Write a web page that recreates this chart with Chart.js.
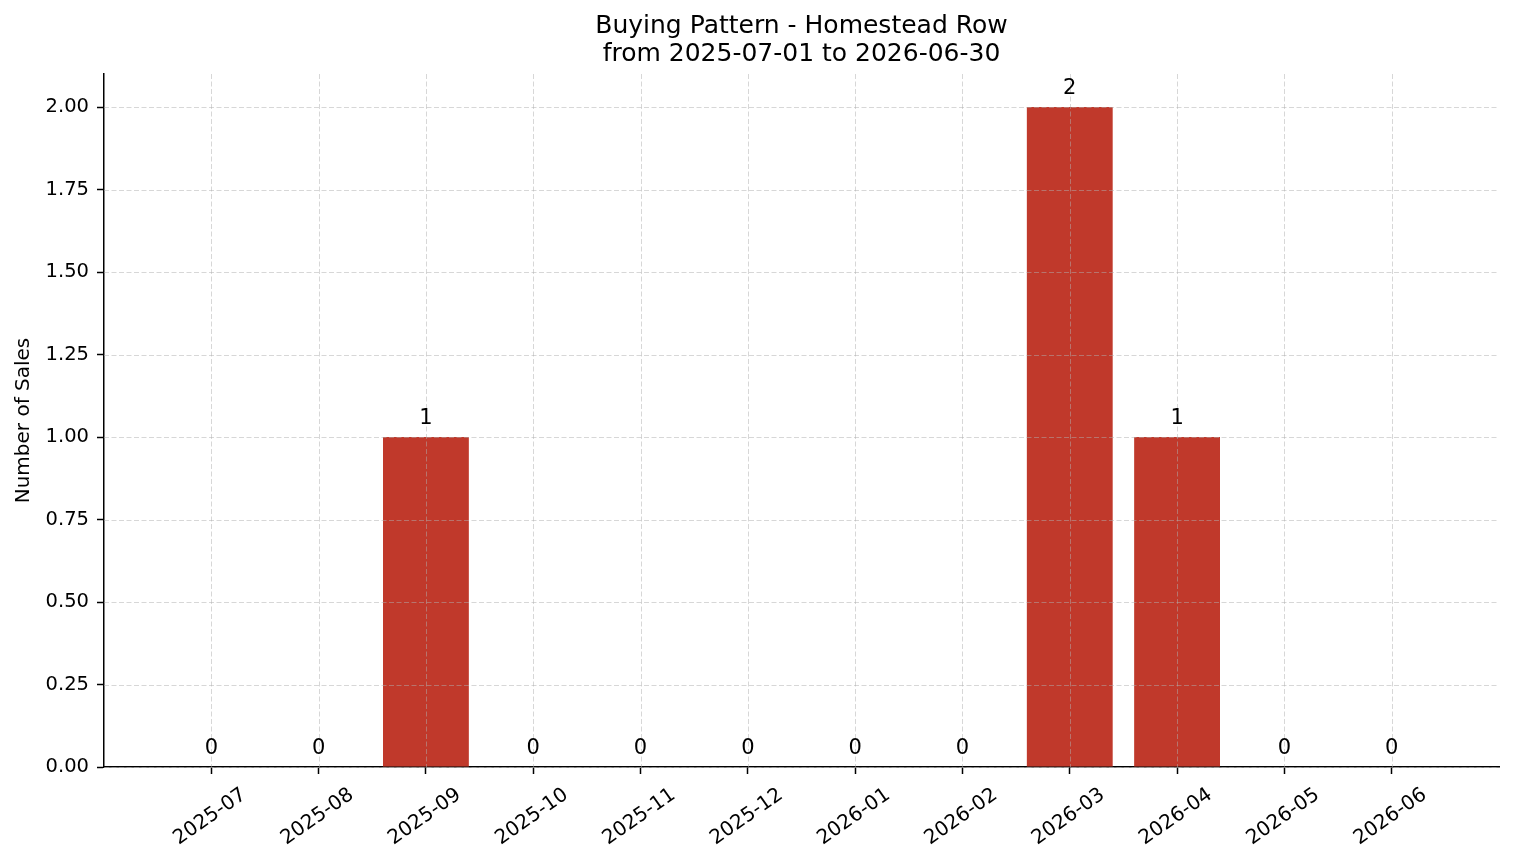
<!DOCTYPE html>
<html>
<head>
<meta charset="utf-8">
<title>Buying Pattern - Homestead Row</title>
<script src="https://cdn.jsdelivr.net/npm/chart.js@4"></script>
<style>
  body { margin: 0; background: #fff; }
  #wrap { width: 1514px; height: 863px; position: relative; }
</style>
</head>
<body>
<div id="wrap"><canvas id="salesChart"></canvas></div>
<script>
// Chart data
const months = ['2025-07', '2025-08', '2025-09', '2025-10', '2025-11', '2025-12',
                '2026-01', '2026-02', '2026-03', '2026-04', '2026-05', '2026-06'];
const sales = [0, 0, 1, 0, 0, 0, 0, 0, 2, 1, 0, 0];
const yTicks = [0, 0.25, 0.5, 0.75, 1, 1.25, 1.5, 1.75, 2];
const titleLines = ['Buying Pattern - Homestead Row', 'from 2025-07-01 to 2026-06-30'];
const yTitle = 'Number of Sales';

const FONT = "'DejaVu Sans', sans-serif";
const barColor = '#c0392b';
const gridColor = 'rgba(176, 176, 176, 0.5)';

// dashed grid drawn over the bars, like matplotlib does
const gridOverlay = {
  id: 'gridOverlay',
  afterDatasetsDraw(chart) {
    const { ctx, chartArea, scales } = chart;
    ctx.save();
    ctx.strokeStyle = gridColor;
    ctx.lineWidth = 1;
    ctx.setLineDash([5, 2.5]);
    scales.x.ticks.forEach((t, i) => {
      const px = Math.round(scales.x.getPixelForTick(i)) + 0.5;
      ctx.beginPath();
      ctx.moveTo(px, chartArea.top);
      ctx.lineTo(px, chartArea.bottom);
      ctx.stroke();
    });
    scales.y.ticks.forEach((t, i) => {
      const py = Math.round(scales.y.getPixelForTick(i)) + 0.5;
      ctx.beginPath();
      ctx.moveTo(chartArea.left, py);
      ctx.lineTo(chartArea.right, py);
      ctx.stroke();
    });
    ctx.restore();
  }
};

// value labels on top of each bar
const barLabels = {
  id: 'barLabels',
  afterDatasetsDraw(chart) {
    const { ctx } = chart;
    const meta = chart.getDatasetMeta(0);
    ctx.save();
    ctx.fillStyle = '#000';
    ctx.font = '21px ' + FONT;
    ctx.textAlign = 'center';
    ctx.textBaseline = 'alphabetic';
    meta.data.forEach((bar, i) => {
      ctx.fillText(String(sales[i]), bar.x, bar.y - 13.5);
    });
    ctx.restore();
  }
};

// title and y axis label
const textPlugin = {
  id: 'textPlugin',
  afterDraw(chart) {
    const { ctx, chartArea } = chart;
    const cx = (chartArea.left + chartArea.right) / 2;
    ctx.save();
    ctx.fillStyle = '#000';
    ctx.font = '25px ' + FONT;
    ctx.textAlign = 'center';
    ctx.textBaseline = 'alphabetic';
    ctx.fillText(titleLines[0], cx, 33);
    ctx.fillText(titleLines[1], cx, 61);

    ctx.font = '20px ' + FONT;
    ctx.translate(29, (chartArea.top + chartArea.bottom) / 2);
    ctx.rotate(-Math.PI / 2);
    ctx.fillText(yTitle, 0, 0);
    ctx.restore();
  }
};

function initChart() {
  const ctx = document.getElementById('salesChart').getContext('2d');
  return new Chart(ctx, {
    type: 'bar',
    data: {
      datasets: [{
        label: yTitle,
        data: months.map((m, i) => ({ x: i, y: sales[i] })),
        backgroundColor: barColor,
        borderWidth: 0,
        barPercentage: 1,
        categoryPercentage: 0.8
      }]
    },
    options: {
      responsive: true,
      maintainAspectRatio: false,
      animation: false,
      events: [],
      layout: { padding: { top: 74, right: 15, left: 0, bottom: 0 } },
      plugins: {
        legend: { display: false },
        tooltip: { enabled: false },
        title: { display: false }
      },
      scales: {
        x: {
          type: 'linear',
          min: -1,
          max: 12,
          offset: false,
          z: 1,
          afterBuildTicks(scale) {
            scale.ticks = months.map((m, i) => ({ value: i }));
          },
          afterFit(scale) { scale.height = 96; },
          ticks: {
            stepSize: 1,
            autoSkip: false,
            minRotation: 35,
            maxRotation: 35,
            labelOffset: 33,
            padding: 9,
            color: '#000',
            font: { family: FONT, size: 20 },
            callback: (v) => months[v] ?? ''
          },
          grid: {
            offset: false,
            drawOnChartArea: false,
            drawTicks: true,
            tickLength: 7,
            tickWidth: 1.5,
            tickColor: '#000'
          },
          border: { display: true, color: '#000', width: 1.5 }
        },
        y: {
          min: 0,
          max: 2.1,
          z: 1,
          afterBuildTicks(scale) {
            scale.ticks = yTicks.map(v => ({ value: v }));
          },
          afterFit(scale) { scale.width = 104; },
          ticks: {
            color: '#000',
            padding: 8,
            font: { family: FONT, size: 19.5 },
            callback: (v) => Number(v).toFixed(2)
          },
          grid: {
            drawOnChartArea: false,
            drawTicks: true,
            tickLength: 7,
            tickWidth: 1.5,
            tickColor: '#000'
          },
          border: { display: true, color: '#000', width: 1.5 }
        }
      }
    },
    plugins: [gridOverlay, barLabels, textPlugin]
  });
}

document.addEventListener('DOMContentLoaded', () => {
  initChart();
});
</script>
</body>
</html>
